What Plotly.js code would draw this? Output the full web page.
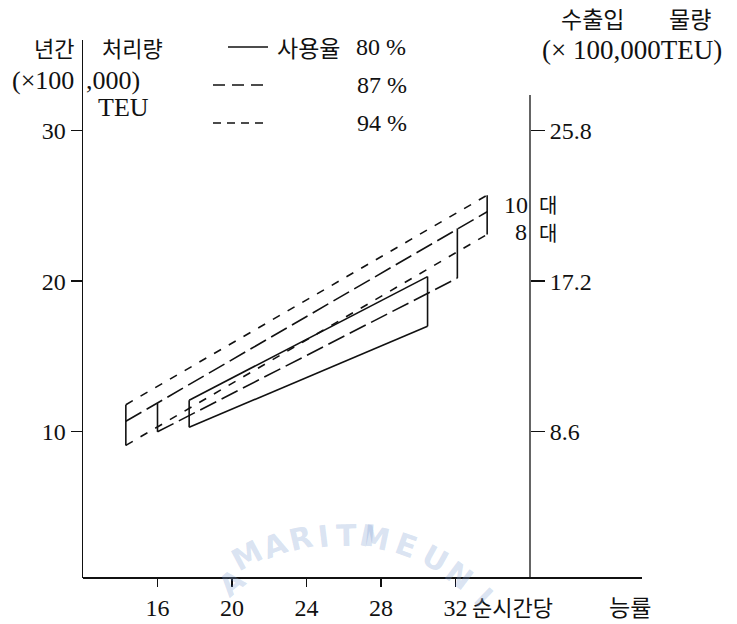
<!DOCTYPE html>
<html><head><meta charset="utf-8">
<script src="https://cdn.plot.ly/plotly-3.0.1.min.js"></script>
<style>html,body{margin:0;padding:0;background:#fff}</style>
</head><body><div id="chart" style="width:737px;height:624px"></div>
<script>
// ---- data ----
const rates      = ['80 %', '87 %', '94 %'];          // 사용율
const xStart     = [17.7, 16.0, 14.3];                 // 순시간당 능률, left end
const xEnd       = [30.5, 32.1, 33.7];                 // right end
const crane8Lo   = [10.3, 10.0, 9.1];                  // 8대 at left end
const crane8Hi   = [17.0, 20.2, 23.1];                 // 8대 at right end
const crane10Lo  = [12.1, 11.9, 11.8];                 // 10대 at left end
const crane10Hi  = [20.3, 23.5, 25.7];                 // 10대 at right end
const ext87X     = [14.3, 33.7];                       // 87% 10대 line runs past its bracket
const ext87Y     = [10.7, 24.6];
const xTickVals  = [16, 20, 24, 28, 32];
const yTickVals  = [10, 20, 30];
const y2TickVals = [8.6, 17.2, 25.8];
const y2TickText = ['8.6', '17.2', '25.8'];

// ---- styles ----
const dashes = ['solid', '18px,6px', '8px,9px'];
const ink = '#111';
const LW = 1.6;

// plot-area pixel mapping for annotation placement
const L = 83, R = 530, T = 40, B = 578;
const px = x => (x - L) / (R - L);
const py = y => (B - y) / (B - T);

const traces = [];
for (let i = 0; i < 3; i++) {
  let xs, ys;
  if (i === 1) {
    xs = [ext87X[0], ext87X[1], null, xStart[i], xEnd[i]];
    ys = [ext87Y[0], ext87Y[1], null, crane8Lo[i], crane8Hi[i]];
  } else {
    xs = [xStart[i], xEnd[i], null, xStart[i], xEnd[i]];
    ys = [crane10Lo[i], crane10Hi[i], null, crane8Lo[i], crane8Hi[i]];
  }
  traces.push({x: xs, y: ys, mode: 'lines', name: rates[i], showlegend: false,
    hoverinfo: 'skip', line: {color: ink, width: LW, dash: dashes[i]}});
  // bracket verticals (solid)
  traces.push({x: [xStart[i], xStart[i], null, xEnd[i], xEnd[i]],
    y: [crane8Lo[i], crane10Lo[i], null, crane8Hi[i], crane10Hi[i]],
    mode: 'lines', showlegend: false, hoverinfo: 'skip',
    line: {color: ink, width: LW}});
}
// keep right axis alive
traces.push({x: [null], y: [null], yaxis: 'y2', mode: 'lines', showlegend: false, hoverinfo: 'skip'});

const serif = {family: 'Liberation Serif, Times New Roman, serif', size: 24, color: ink};
const serifL = {family: 'Liberation Serif, Times New Roman, serif', size: 26, color: ink};
const kr = s => ({family: 'Noto Sans CJK KR, sans-serif', size: s, color: ink});

const ann = [];
function txt(t, x, y, font, anchor) {
  ann.push({text: t, x: px(x), y: py(y), xref: 'paper', yref: 'paper',
    showarrow: false, font: font, xanchor: anchor || 'center', yanchor: 'middle'});
}
txt('년간', 54, 47, kr(22));
txt('처리량', 132, 47, kr(22));
txt('(×100', 10, 80, serifL, 'left');
txt(',000)', 84, 80, serifL, 'left');
txt('TEU', 123, 108, serifL);
txt('사용율', 308, 47, kr(23));
txt('80 %', 381, 47, serif);
txt('87 %', 382, 85, serif);
txt('94 %', 382, 123, serif);
txt('수출입', 592, 18, kr(23));
txt('물량', 690, 18, kr(23));
txt('(× 100,000TEU)', 632, 50, {family: serif.family, size: 27, color: ink});
txt('10', 516, 205, serif);
txt('대', 548, 204, kr(20));
txt('8', 521, 232, serif);
txt('대', 548, 232, kr(20));
txt('순시간당', 512, 606, kr(22));
txt('능률', 630, 606, kr(23));

// faint watermark from the scan
const wmLetters = ['A','M','A','R','I','T','I','M','E','U','N','I'];
const wmAngles  = [-40,-28,-20,-13,-7,-1,5,12,20,29,37,44];
const cx = 350, cy = 775, r = 220;
for (let k = 0; k < wmLetters.length; k++) {
  const a = wmAngles[k] * Math.PI / 180;
  ann.push({text: '<b>' + wmLetters[k] + '</b>', x: px(cx + r * Math.sin(a)), y: py(cy - r * Math.cos(a)),
    xref: 'paper', yref: 'paper', showarrow: false, textangle: wmAngles[k],
    font: {family: 'DejaVu Sans, sans-serif', size: 30, color: 'rgba(130,160,210,0.3)'}});
}

const shp = [
  {type: 'line', xref: 'paper', yref: 'paper', x0: 0, x1: px(642), y0: 0, y1: 0, line: {color: ink, width: 1.8}},
  {type: 'line', xref: 'paper', yref: 'paper', x0: 1, x1: 1, y0: 0, y1: py(95), line: {color: ink, width: 1.3}},
  {type: 'line', xref: 'paper', yref: 'paper', x0: px(228), x1: px(268), y0: py(47), y1: py(47), line: {color: ink, width: 1.3, dash: dashes[0]}},
  {type: 'line', xref: 'paper', yref: 'paper', x0: px(213), x1: px(263), y0: py(85), y1: py(85), line: {color: ink, width: 1.3, dash: '12px,7px'}},
  {type: 'line', xref: 'paper', yref: 'paper', x0: px(213), x1: px(263), y0: py(123), y1: py(123), line: {color: ink, width: 1.3, dash: '8px,6px'}}
];

const layout = {
  width: 737, height: 624,
  margin: {l: L, r: 737 - R, t: T, b: 624 - B, pad: 0},
  paper_bgcolor: '#fff', plot_bgcolor: '#fff',
  showlegend: false, hovermode: false,
  xaxis: {range: [12, 36], tickvals: xTickVals, ticks: 'outside', ticklen: 8, tickwidth: 1.3,
    tickcolor: ink, showgrid: false, zeroline: false, showline: false, tickfont: serif, fixedrange: true},
  yaxis: {range: [0.3, 36], tickvals: yTickVals, ticks: 'outside', ticklen: 11, tickwidth: 1.3,
    tickcolor: ink, showgrid: false, zeroline: false, showline: true, linecolor: ink, linewidth: 1.5,
    tickfont: serif, fixedrange: true},
  yaxis2: {overlaying: 'y', side: 'right', range: [0.3 * 0.86, 36 * 0.86], tickvals: y2TickVals,
    ticktext: y2TickText, ticks: 'outside', ticklen: 14, tickwidth: 1.3, tickcolor: ink,
    showgrid: false, zeroline: false, showline: false, tickfont: serif, fixedrange: true},
  annotations: ann,
  shapes: shp
};
Plotly.newPlot('chart', traces, layout, {displayModeBar: false, staticPlot: true});
</script></body></html>
